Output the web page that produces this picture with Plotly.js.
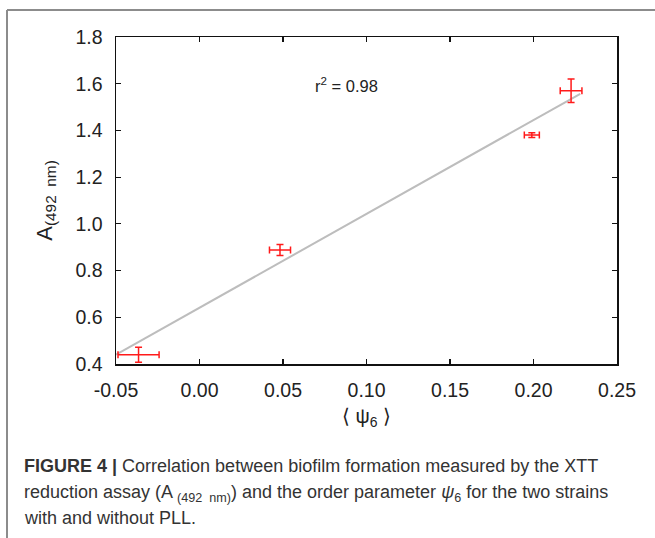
<!DOCTYPE html>
<html>
<head>
<meta charset="utf-8">
<script src="https://cdn.plot.ly/plotly-3.0.1.min.js"></script>
<style>
html,body{margin:0;padding:0;background:#fff;overflow:hidden;}
#chart{width:655px;height:538px;}
</style>
</head>
<body>
<div id="chart"></div>
<script>
// Data
const psi6      = [-0.0365, 0.0482, 0.1990, 0.2225];
const absorb    = [0.440, 0.888, 1.380, 1.570];
const psi6Err   = [0.0123, 0.0063, 0.0045, 0.0065];
const absorbErr = [0.032, 0.024, 0.010, 0.050];
// Linear fit line endpoints (x) and fitted values
const fitX = [-0.05, 0.228];
const fitY = [0.440, 1.557];
const xTicks = [-0.05, 0.00, 0.05, 0.10, 0.15, 0.20, 0.25];
const xTickText = ['-0.05', '0.00', '0.05', '0.10', '0.15', '0.20', '0.25'];
const yTicks = [0.4, 0.6, 0.8, 1.0, 1.2, 1.4, 1.6, 1.8];
const yTickText = ['0.4', '0.6', '0.8', '1.0', '1.2', '1.4', '1.6', '1.8'];
const r2Label = 'r<sup>2</sup> = 0.98';
const xTitle = '\u27e8 \u03c8<sub>6</sub> \u27e9';
const yTitle = 'A<sub>(492\u00a0\u00a0nm)</sub>';
const captionLines = [
  '<b>FIGURE 4 |</b> Correlation between biofilm formation measured by the XTT',
  'reduction assay (A <sub>(492\u00a0\u00a0nm)</sub>) and the order parameter <i>\u03c8</i><sub>6</sub> for the two strains',
  'with and without PLL.'
];

const W = 655, H = 538;
const L = 116, R = 617, T = 37, B = 364;
const pw = R - L, ph = B - T;
const px = v => (v - L) / pw;
const py = v => (B - v) / ph;

const fontFam = 'Liberation Sans, Arial, Helvetica, sans-serif';

const traces = [
  {
    x: fitX, y: fitY, type: 'scatter', mode: 'lines',
    line: {color: '#bdbdbd', width: 2}, hoverinfo: 'skip'
  },
  {
    x: psi6, y: absorb, type: 'scatter', mode: 'markers',
    marker: {size: 1, color: '#ff1a1a'},
    error_x: {type: 'data', array: psi6Err, visible: true, color: '#ff1a1a', thickness: 1.5, width: 3.5},
    error_y: {type: 'data', array: absorbErr, visible: true, color: '#ff1a1a', thickness: 1.5, width: 3.5}
  }
];

const axisCommon = {
  showline: true, linecolor: '#111', linewidth: 1.5, mirror: 'ticks',
  ticks: 'inside', ticklen: 5, tickwidth: 1.2, tickcolor: '#111',
  showgrid: false, zeroline: false,
  tickfont: {family: fontFam, size: 19.5, color: '#222'}
};

const capY = [466, 493, 518];
const capFont = {family: fontFam, size: 18, color: '#333'};

const annotations = [
  {x: 0.088, y: 1.595, xref: 'x', yref: 'y', text: r2Label, showarrow: false,
   font: {family: fontFam, size: 16.5, color: '#222'}}
];
captionLines.forEach((t, i) => {
  annotations.push({x: px(22), y: py(capY[i]), xref: 'paper', yref: 'paper',
    xanchor: 'left', yanchor: 'middle', showarrow: false, align: 'left',
    text: t, font: capFont});
});

const layout = {
  width: W, height: H,
  margin: {l: L, r: W - R, t: T, b: H - B, pad: 0},
  paper_bgcolor: '#fff', plot_bgcolor: '#fff',
  showlegend: false,
  xaxis: Object.assign({}, axisCommon, {
    range: [-0.05, 0.25], tickmode: 'array', tickvals: xTicks, ticktext: xTickText,
    ticklabelstandoff: 8,
    title: {text: xTitle, font: {family: fontFam, size: 20, color: '#222'}, standoff: 9}
  }),
  yaxis: Object.assign({}, axisCommon, {
    range: [0.4, 1.8], tickmode: 'array', tickvals: yTicks, ticktext: yTickText,
    ticklabelstandoff: 8,
    title: {text: yTitle, font: {family: fontFam, size: 22, color: '#222'}, standoff: 17}
  }),
  annotations: annotations,
  shapes: [
    {type: 'line', xref: 'paper', yref: 'paper', x0: px(7), x1: px(7), y0: py(10), y1: py(545),
     line: {color: '#8c8c8c', width: 2}},
    {type: 'line', xref: 'paper', yref: 'paper', x0: px(7), x1: px(660), y0: py(10), y1: py(10),
     line: {color: '#8c8c8c', width: 2}}
  ]
};

Plotly.newPlot('chart', traces, layout, {staticPlot: true, displayModeBar: false});
</script>
</body>
</html>
